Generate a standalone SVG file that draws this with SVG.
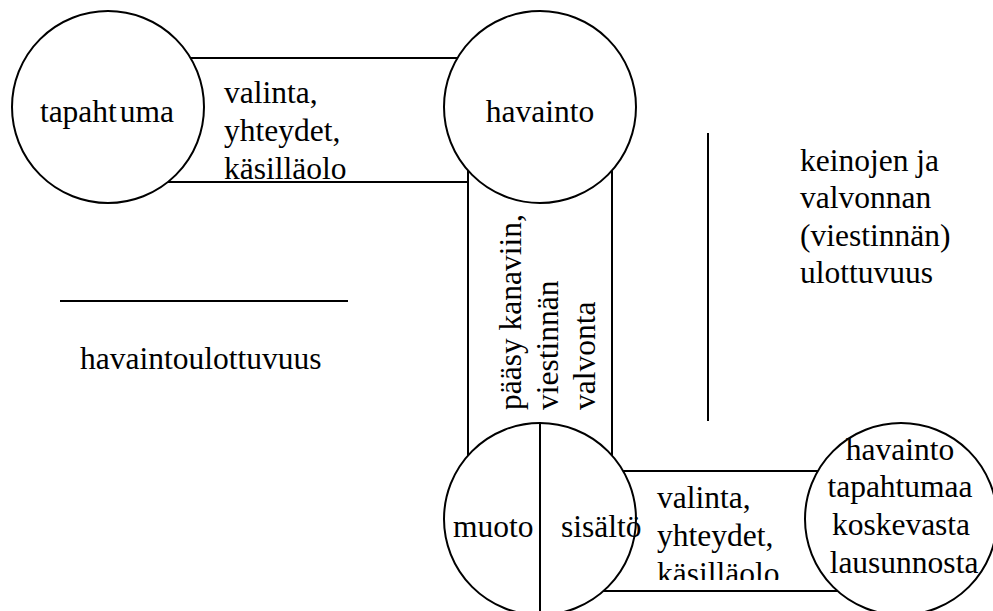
<svg xmlns="http://www.w3.org/2000/svg" width="993" height="611" viewBox="0 0 993 611">
<style>
.ln{stroke:#000;stroke-width:2;fill:none}
.nd{stroke:#000;stroke-width:2;fill:#fff}
.t{font-family:"Liberation Serif","Times New Roman",serif;font-size:31.5px;fill:#000}
.c{text-anchor:middle}
</style>
<defs>
<clipPath id="clipBottom"><rect x="640" y="471" width="180" height="109"/></clipPath>
</defs>
<g id="connectors">
<line class="ln" x1="108" y1="58" x2="540" y2="58"/>
<line class="ln" x1="108" y1="182" x2="469" y2="182"/>
<line class="ln" x1="468" y1="107" x2="468" y2="519"/>
<line class="ln" x1="612" y1="107" x2="612" y2="519"/>
<line class="ln" x1="540" y1="471" x2="901" y2="471"/>
<line class="ln" x1="540" y1="591" x2="901" y2="591"/>
</g>
<g class="t">
<g id="tapahtuma">
<circle class="nd" cx="108" cy="107" r="96"/>
<text class="c" x="107" y="122">tapaht<tspan dx="3">uma</tspan></text>
</g>
<g id="havainto">
<circle class="nd" cx="540" cy="107" r="96"/>
<text class="c" x="540" y="122">havainto</text>
</g>
<g id="muoto-sisalto">
<circle class="nd" cx="540" cy="519" r="96"/>
<line class="ln" x1="540" y1="423" x2="540" y2="611"/>
<text x="453" y="537">muoto</text>
<text x="561" y="537">sisältö</text>
</g>
<g id="havainto-lausunnosta">
<circle class="nd" cx="901" cy="519" r="96"/>
<text class="c" x="900" y="460">havainto</text>
<text class="c" x="900" y="497">tapahtumaa</text>
<text class="c" x="901" y="535">koskevasta</text>
<text class="c" x="904" y="573">lausunnosta</text>
</g>
<g id="label-top">
<text x="224" y="103">valinta,</text>
<text x="224" y="141">yhteydet,</text>
<text x="224" y="179">käsilläolo</text>
</g>
<g id="label-middle">
<text transform="translate(521,410) rotate(-90)">pääsy kanaviin,</text>
<text transform="translate(558,410) rotate(-90)">viestinnän</text>
<text transform="translate(595,410) rotate(-90)">valvonta</text>
</g>
<g id="label-bottom" clip-path="url(#clipBottom)">
<text x="657" y="508">valinta,</text>
<text x="657" y="546">yhteydet,</text>
<text x="657" y="584">käsilläolo</text>
</g>
<g id="axis-havainto">
<line class="ln" x1="60" y1="301" x2="348" y2="301"/>
<text x="80" y="369">havaintoulottuvuus</text>
</g>
<g id="axis-keinot">
<line class="ln" x1="708" y1="133" x2="708" y2="421"/>
<text x="800" y="171">keinojen ja</text>
<text x="800" y="208">valvonnan</text>
<text x="800" y="246">(viestinnän)</text>
<text x="800" y="283">ulottuvuus</text>
</g>
</g>
</svg>
